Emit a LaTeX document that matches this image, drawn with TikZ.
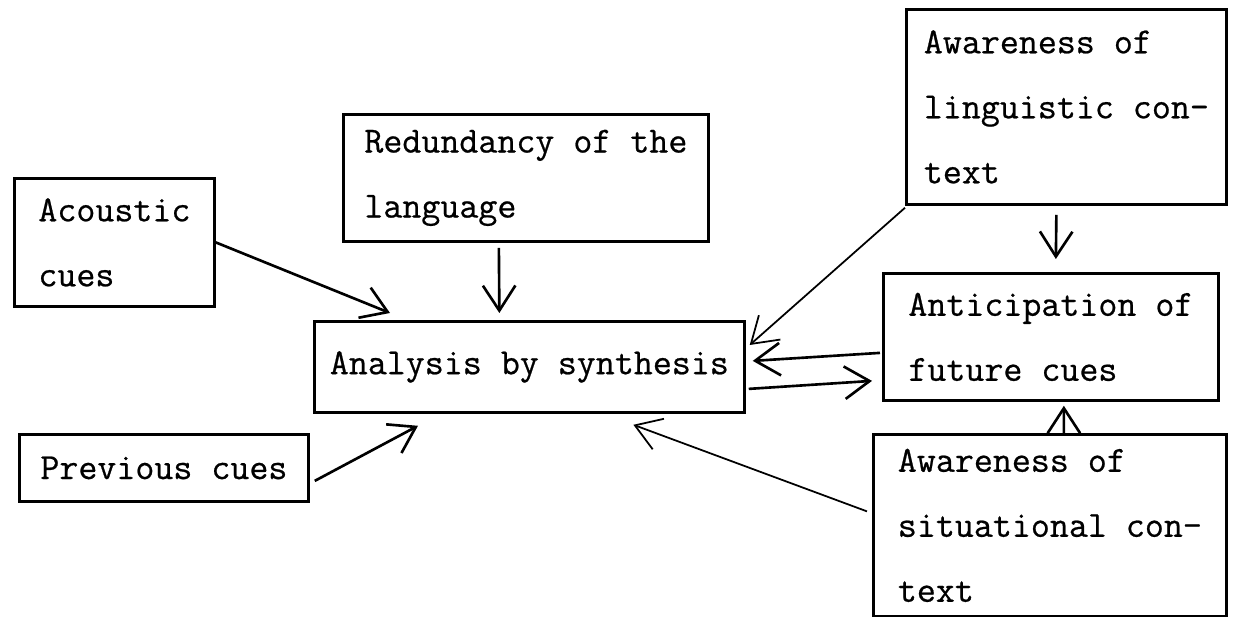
\documentclass[tikz,border=0pt]{standalone}
\usepackage{fontspec}
\newfontfamily\typer[FakeBold=0.6]{Latin Modern Mono}
\usetikzlibrary{arrows.meta,calc}

\tikzset{
  cuebox/.style={draw, line width=1.6pt, anchor=north west, align=left,
    inner sep=0pt, font=\typer\fontsize{21}{37}\selectfont},
  arr/.style={line width=1.5pt, -{Straight Barb[length=0.5cm,width=0.65cm]}},
  thinarr/.style={arr, line width=1pt}
}

\begin{document}
\begin{tikzpicture}[x=0.02cm, y=-0.02cm]
\useasboundingbox (0,0) rectangle (1242,617);

    % Boxes on the left
    \node[cuebox, minimum width=4cm, minimum height=2.56cm] (acoustic) at (13,177) {Acoustic\\cues};
    \node[cuebox, minimum width=5.78cm, minimum height=1.34cm] (previous) at (18,433) {Previous cues};

    % Boxes in the middle
    \node[cuebox, minimum width=7.3cm, minimum height=2.54cm] (redund) at (342,113) {Redundancy of the\\language};
    \node[cuebox, minimum width=8.6cm, minimum height=1.82cm] (analysis) at (313,320) {Analysis by synthesis};

    % Boxes on the right
    \node[cuebox, minimum width=6.4cm, minimum height=3.9cm] (lingu) at (905,8) {Awareness of\\linguistic con-\\text};
    \node[cuebox, minimum width=6.7cm, minimum height=2.54cm] (anticip) at (882,272) {Anticipation of\\future cues};
    \node[cuebox, minimum width=7.06cm, minimum height=3.64cm] (situ) at (872,433) {Awareness of\\situational con-\\text};

    % Arrows into the analysis box
    \draw[arr] (acoustic.east) -- ($(analysis.north west)+(77,-7)$);
    \draw[arr] ($(redund.south)+(-27,5)$) -- ($(analysis.north)+(-30,-7)$);
    \draw[arr] ($(previous.east)+(5,13)$) -- ($(analysis.south west)+(105,12)$);
    \draw[thinarr] ($(lingu.south west)+(0,2)$) -- ($(analysis.north east)+(4,25)$);
    \draw[thinarr] ($(situ.west)+(-5,-14)$) -- ($(analysis.south)+(104,11)$);

    % Arrows between analysis and anticipation
    \draw[arr] ($(anticip.west)+(-2,16)$) -- ($(analysis.east)+(7,-6)$);
    \draw[arr] ($(analysis.east)+(3,22)$) -- ($(anticip.west)+(-10,44)$);

    % Arrows into the anticipation box
    \draw[arr] ($(lingu.south)+(-10,9)$) -- ($(anticip.north)+(5,-13)$);
    \draw[arr] ($(situ.north)+(14,0)$) -- ($(anticip.south)+(13,4)$);

\end{tikzpicture}
\end{document}
